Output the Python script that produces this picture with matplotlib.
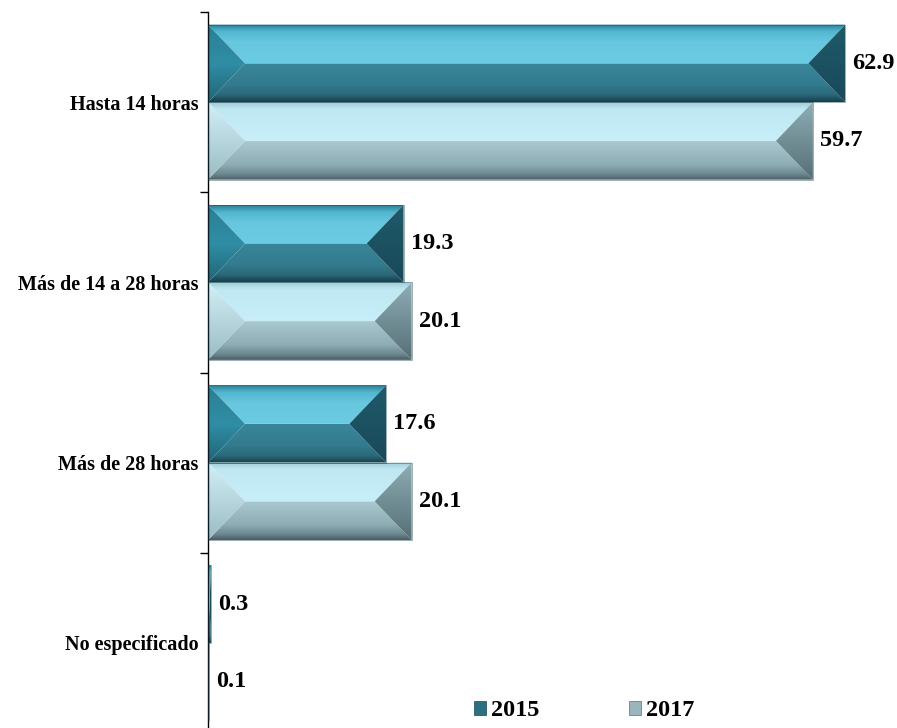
import matplotlib.pyplot as plt
import numpy as np
from matplotlib.colors import to_rgb
from matplotlib.patches import Polygon, Rectangle

plt.rcParams['font.family'] = ['Liberation Serif', 'DejaVu Serif']

categories = ['Hasta 14 horas', 'Más de 14 a 28 horas', 'Más de 28 horas', 'No especificado']
years = ['2015', '2017']
values_2015 = [62.9, 19.3, 17.6, 0.3]
values_2017 = [59.7, 20.1, 20.1, 0.1]

# gradient stops for each bevel face: top, bottom, left, right
faces_2015 = {
    'top': [(0, '#2b7f96'), (0.18, '#52b6cf'), (0.45, '#66c7df'), (1, '#6acbe2')],
    'bottom': [(0, '#3a8699'), (0.55, '#337b8e'), (0.82, '#2b6879'), (1, '#163f4c')],
    'left': [(0, '#2a7f94'), (0.5, '#2f8ea5'), (1, '#226476')],
    'right': [(0, '#1f5a6a'), (1, '#19495a')],
}
faces_2017 = {
    'top': [(0, '#9fcbd6'), (0.18, '#bfe8f2'), (1, '#c8eff9')],
    'bottom': [(0, '#a9c8d0'), (0.6, '#8eadb5'), (0.85, '#6d8990'), (1, '#4a5e63')],
    'left': [(0, '#d2eff6'), (1, '#9bbcc4')],
    'right': [(0, '#8eadb5'), (1, '#566f75')],
}


def gradient(stops, n=64):
    pos = [p for p, _ in stops]
    cols = np.array([to_rgb(c) for _, c in stops])
    t = np.linspace(0, 1, n)
    rgb = np.stack([np.interp(t, pos, cols[:, k]) for k in range(3)], axis=1)
    return rgb[:, None, :]


def fill_face(ax, pts, stops, x0, x1, ytop, ybot):
    poly = Polygon(pts, closed=True, facecolor='none', edgecolor='none')
    ax.add_patch(poly)
    im = ax.imshow(gradient(stops), extent=(x0, x1, ybot, ytop), origin='upper',
                   aspect='auto', interpolation='bilinear', zorder=2)
    im.set_clip_path(poly)


def bevel_bar(ax, y, h, width, faces, depth):
    if width <= 0:
        return
    ytop, ybot = y - h / 2, y + h / 2
    ymid = y
    d = min(depth, width / 2)
    x0, x1 = 0, width
    fill_face(ax, [(x0, ytop), (x1, ytop), (x1 - d, ymid), (x0 + d, ymid)],
              faces['top'], x0, x1, ytop, ymid)
    fill_face(ax, [(x0 + d, ymid), (x1 - d, ymid), (x1, ybot), (x0, ybot)],
              faces['bottom'], x0, x1, ymid, ybot)
    fill_face(ax, [(x0, ytop), (x0 + d, ymid), (x0, ybot)],
              faces['left'], x0, x0 + d, ytop, ybot)
    fill_face(ax, [(x1, ytop), (x1, ybot), (x1 - d, ymid)],
              faces['right'], x1 - d, x1, ytop, ybot)
    ax.add_patch(Rectangle((x0, ytop), width, h, facecolor='none',
                           edgecolor='#1c4652', lw=0.6, alpha=0.5, zorder=3))


fig = plt.figure(figsize=(8.97, 7.28), dpi=100)
ax = fig.add_axes([208 / 897, -5 / 728, 689 / 897, 721 / 728])

xmax = 68.0
bar_h = 0.43
offset = 0.215
depth = 3.65

y = np.arange(len(categories))
for i in range(len(categories)):
    bevel_bar(ax, y[i] - offset, bar_h, values_2015[i], faces_2015, depth)
    bevel_bar(ax, y[i] + offset, bar_h, values_2017[i], faces_2017, depth)
    ax.text(values_2015[i] + 0.7, y[i] - offset, f'{values_2015[i]:.1f}',
            va='center', ha='left', fontsize=17.5, fontweight='bold')
    ax.text(values_2017[i] + 0.7, y[i] + offset, f'{values_2017[i]:.1f}',
            va='center', ha='left', fontsize=17.5, fontweight='bold')

ax.set_xlim(0, xmax)
ax.set_ylim(len(categories) - 0.5, -0.5)

ax.set_yticks(y)
ax.set_yticklabels(categories, fontsize=14.5, fontweight='bold')
ax.set_yticks(np.arange(len(categories) + 1) - 0.5, minor=True)
ax.tick_params(axis='y', which='major', length=0, pad=7)
ax.tick_params(axis='y', which='minor', length=6, width=1, direction='out')
ax.set_xticks([])
for side in ['top', 'right', 'bottom']:
    ax.spines[side].set_visible(False)
ax.spines['left'].set_linewidth(1)

handles = [Rectangle((0, 0), 1, 1, facecolor='#2a6f82', edgecolor='#1c4652', lw=0.5),
           Rectangle((0, 0), 1, 1, facecolor='#9ab5bc', edgecolor='#5a7379', lw=0.5)]
fig.legend(handles, years, loc='center', bbox_to_anchor=(584 / 897, 1 - 711 / 728),
           ncol=2, frameon=False, handlelength=0.5, handleheight=0.5,
           handletextpad=0.2, columnspacing=3.7,
           prop={'family': 'Liberation Serif', 'weight': 'bold', 'size': 17.5})

fig.savefig('out.png', dpi=100)
